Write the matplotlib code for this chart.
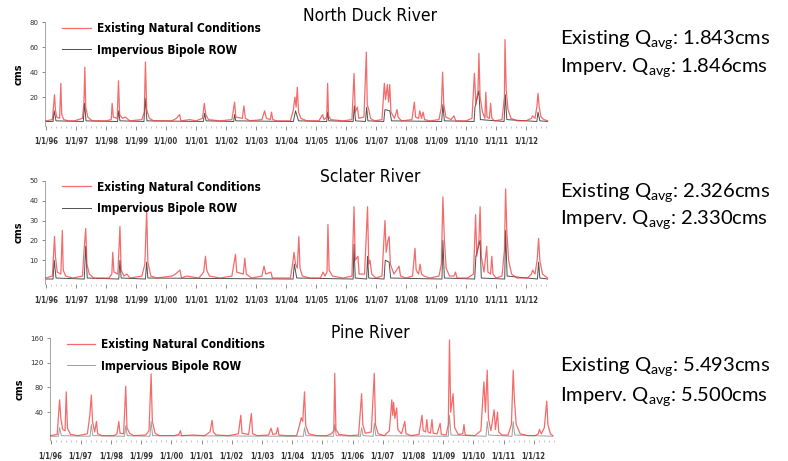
import matplotlib.pyplot as plt
from matplotlib.ticker import MultipleLocator

# North Duck River, decimal years and flow (cms)
nd_t = [1996.00, 1996.22, 1996.26, 1996.29, 1996.32, 1996.36, 1996.46, 1996.50, 1996.53, 1996.60, 1996.75,
        1996.95, 1997.22, 1997.27, 1997.30, 1997.33, 1997.40, 1997.55, 1998.00, 1998.18, 1998.21, 1998.25,
        1998.38, 1998.42, 1998.46, 1998.55, 1998.65, 1998.80, 1999.20, 1999.28, 1999.32, 1999.36, 1999.45,
        1999.60, 2000.20, 2000.35, 2000.46, 2000.50, 2000.80, 2001.00, 2001.22, 2001.28, 2001.33, 2001.42,
        2001.80, 2002.20, 2002.29, 2002.33, 2002.55, 2002.60, 2002.65, 2002.80, 2003.20, 2003.29, 2003.35,
        2003.48, 2003.52, 2003.56, 2003.70, 2004.15, 2004.25, 2004.30, 2004.34, 2004.38, 2004.42, 2004.50,
        2004.70, 2005.10, 2005.22, 2005.27, 2005.36, 2005.39, 2005.42, 2005.50, 2005.90, 2006.20, 2006.27,
        2006.31, 2006.38, 2006.43, 2006.60, 2006.68, 2006.71, 2006.76, 2006.82, 2006.95, 2007.20, 2007.28,
        2007.32, 2007.38, 2007.42, 2007.46, 2007.50, 2007.62, 2007.70, 2007.74, 2007.85, 2008.20, 2008.28,
        2008.32, 2008.42, 2008.46, 2008.52, 2008.57, 2008.62, 2008.80, 2009.10, 2009.18, 2009.22, 2009.26,
        2009.33, 2009.50, 2009.60, 2009.66, 2010.00, 2010.20, 2010.28, 2010.33, 2010.40, 2010.43, 2010.47,
        2010.55, 2010.63, 2010.66, 2010.70, 2010.78, 2010.82, 2010.86, 2010.95, 2011.20, 2011.28, 2011.30,
        2011.34, 2011.40, 2011.50, 2011.70, 2012.00, 2012.18, 2012.22, 2012.30, 2012.36, 2012.40, 2012.44,
        2012.50, 2012.60, 2012.72]
nd_exist = [1, 2, 14, 22, 10, 4, 3, 31, 6, 2, 1,
            1, 3, 15, 44, 12, 4, 1, 1, 2, 15, 4,
            3, 33, 6, 3, 4, 1, 2, 8, 48, 10, 3,
            1, 1, 3, 6, 1, 2, 1, 3, 15, 6, 2,
            1, 2, 16, 4, 3, 13, 3, 1, 2, 9, 3,
            2, 8, 2, 1, 1, 10, 20, 12, 28, 8, 3,
            1, 1, 6, 2, 4, 31, 5, 2, 1, 2, 39,
            8, 12, 3, 4, 56, 14, 10, 3, 1, 2, 31,
            18, 30, 16, 30, 8, 3, 10, 4, 1, 2, 16,
            4, 3, 9, 3, 8, 2, 1, 2, 12, 40, 14,
            4, 2, 5, 1, 1, 3, 39, 14, 25, 55, 20,
            8, 3, 24, 4, 3, 15, 3, 1, 2, 20, 66,
            26, 10, 3, 1, 1, 3, 5, 3, 12, 23, 12,
            4, 2, 1]
nd_imp_t = [1996.00, 1996.24, 1996.28, 1996.34, 1997.25, 1997.29, 1997.34, 1998.39, 1998.43, 1998.47,
            1999.27, 1999.31, 1999.37, 2001.25, 2001.29, 2001.34, 2002.26, 2002.29, 2002.33, 2004.25,
            2004.32, 2004.42, 2005.36, 2005.39, 2005.43, 2006.24, 2006.28, 2006.32, 2006.65, 2006.69,
            2006.73, 2007.26, 2007.30, 2007.46, 2007.52, 2009.19, 2009.23, 2009.28, 2010.27, 2010.30,
            2010.43, 2010.48, 2011.27, 2011.31, 2011.36, 2012.36, 2012.40, 2012.46, 2012.72]
nd_imp = [0.5, 0.5, 9, 1, 0.5, 15, 1, 0.5, 9, 1,
          0.5, 19, 1, 0.5, 7, 1, 0.5, 6, 1, 0.5,
          9, 1, 0.5, 8, 1, 0.5, 13, 1, 0.5, 12,
          1, 0.5, 10, 9, 1, 0.5, 14, 1, 0.5, 12,
          25, 2, 0.5, 22, 2, 0.5, 8, 1, 0.5]

# Sclater River
sc_t = [1996.00, 1996.22, 1996.26, 1996.29, 1996.32, 1996.38, 1996.50, 1996.55, 1996.58, 1996.66, 1996.90,
        1997.22, 1997.28, 1997.33, 1997.37, 1997.45, 1997.60, 1998.10, 1998.20, 1998.23, 1998.27, 1998.40,
        1998.47, 1998.51, 1998.60, 1998.70, 1998.80, 1999.20, 1999.30, 1999.36, 1999.40, 1999.50, 1999.70,
        2000.20, 2000.32, 2000.47, 2000.52, 2000.70, 2001.10, 2001.26, 2001.32, 2001.36, 2001.45, 2001.80,
        2002.20, 2002.32, 2002.36, 2002.58, 2002.63, 2002.68, 2002.85, 2003.20, 2003.27, 2003.33, 2003.50,
        2003.55, 2003.80, 2004.15, 2004.24, 2004.27, 2004.32, 2004.38, 2004.43, 2004.47, 2004.55, 2004.80,
        2005.15, 2005.24, 2005.30, 2005.37, 2005.40, 2005.44, 2005.55, 2005.90, 2006.20, 2006.27, 2006.31,
        2006.40, 2006.44, 2006.62, 2006.72, 2006.76, 2006.80, 2006.86, 2007.00, 2007.20, 2007.30, 2007.34,
        2007.40, 2007.44, 2007.48, 2007.60, 2007.77, 2007.82, 2008.00, 2008.22, 2008.30, 2008.34, 2008.42,
        2008.47, 2008.52, 2008.60, 2008.80, 2009.10, 2009.18, 2009.23, 2009.28, 2009.34, 2009.45, 2009.60,
        2009.65, 2009.70, 2010.05, 2010.25, 2010.32, 2010.36, 2010.43, 2010.47, 2010.51, 2010.60, 2010.69,
        2010.73, 2010.82, 2010.86, 2010.90, 2011.00, 2011.20, 2011.28, 2011.32, 2011.36, 2011.42, 2011.52,
        2011.70, 2012.05, 2012.18, 2012.22, 2012.30, 2012.37, 2012.42, 2012.46, 2012.55, 2012.72]
sc_exist = [1, 2, 14, 22, 12, 4, 3, 25, 5, 2, 1,
            2, 16, 26, 8, 3, 1, 1, 3, 14, 4, 3,
            27, 5, 2, 3, 1, 2, 8, 35, 9, 2, 1,
            2, 3, 5, 1, 2, 1, 4, 12, 5, 2, 1,
            2, 13, 4, 3, 11, 3, 1, 2, 7, 3, 4,
            1, 1, 1, 10, 14, 8, 6, 22, 6, 2, 1,
            1, 4, 2, 4, 28, 5, 2, 1, 2, 37, 10,
            12, 3, 3, 37, 8, 10, 3, 1, 2, 30, 14,
            20, 22, 8, 3, 7, 2, 1, 2, 16, 5, 3,
            8, 3, 2, 1, 2, 8, 42, 20, 6, 2, 2,
            4, 1, 1, 3, 33, 12, 20, 37, 12, 4, 17,
            4, 3, 12, 3, 1, 2, 15, 46, 25, 10, 3,
            1, 1, 3, 5, 3, 10, 21, 10, 3, 1]
sc_imp_t = [1996.00, 1996.24, 1996.28, 1996.34, 1997.28, 1997.33, 1997.38, 1998.43, 1998.47, 1998.51,
            1999.32, 1999.36, 1999.40, 2004.24, 2004.28, 2004.36, 2006.24, 2006.27, 2006.31, 2006.69,
            2006.72, 2006.76, 2007.27, 2007.31, 2007.44, 2007.49, 2009.20, 2009.23, 2009.28, 2010.29,
            2010.33, 2010.47, 2010.51, 2011.29, 2011.32, 2011.37, 2012.38, 2012.42, 2012.46, 2012.72]
sc_imp = [0.5, 0.5, 10, 1, 0.5, 17, 1, 0.5, 10, 1,
          0.5, 9, 1, 0.5, 8, 1, 0.5, 18, 1, 0.5,
          12, 1, 0.5, 10, 9, 1, 0.5, 20, 1, 0.5,
          12, 20, 1, 0.5, 25, 2, 0.5, 9, 1, 0.5]

# Pine River
pn_t = [1996.00, 1996.22, 1996.27, 1996.30, 1996.34, 1996.40, 1996.48, 1996.52, 1996.56, 1996.66, 1996.90,
        1997.22, 1997.30, 1997.35, 1997.39, 1997.46, 1997.52, 1997.56, 1997.70, 1998.10, 1998.20, 1998.26,
        1998.30, 1998.42, 1998.49, 1998.53, 1998.62, 1998.75, 1999.15, 1999.26, 1999.33, 1999.37, 1999.46,
        1999.60, 2000.10, 2000.25, 2000.30, 2000.34, 2000.70, 2001.10, 2001.28, 2001.35, 2001.39, 2001.48,
        2001.90, 2002.22, 2002.30, 2002.34, 2002.56, 2002.65, 2002.69, 2002.85, 2003.22, 2003.30, 2003.36,
        2003.47, 2003.52, 2003.56, 2003.80, 2004.15, 2004.25, 2004.30, 2004.35, 2004.41, 2004.45, 2004.55,
        2004.80, 2005.15, 2005.30, 2005.38, 2005.41, 2005.45, 2005.55, 2005.90, 2006.20, 2006.30, 2006.34,
        2006.42, 2006.62, 2006.72, 2006.76, 2006.85, 2007.05, 2007.22, 2007.27, 2007.30, 2007.33, 2007.36,
        2007.40, 2007.46, 2007.50, 2007.62, 2007.73, 2007.77, 2007.95, 2008.20, 2008.30, 2008.34, 2008.42,
        2008.46, 2008.50, 2008.58, 2008.63, 2008.67, 2008.80, 2008.90, 2008.94, 2009.10, 2009.17, 2009.21,
        2009.25, 2009.33, 2009.38, 2009.50, 2009.65, 2009.69, 2009.73, 2010.05, 2010.25, 2010.31, 2010.35,
        2010.40, 2010.46, 2010.50, 2010.58, 2010.69, 2010.73, 2010.80, 2010.84, 2010.95, 2011.15, 2011.26,
        2011.32, 2011.36, 2011.42, 2011.55, 2011.80, 2012.05, 2012.15, 2012.19, 2012.25, 2012.35, 2012.43,
        2012.47, 2012.55, 2012.63]
pn_exist = [2, 4, 40, 60, 30, 12, 10, 73, 14, 4, 2,
            5, 35, 68, 25, 8, 25, 5, 2, 2, 5, 25,
            6, 5, 82, 15, 6, 2, 3, 10, 102, 25, 6,
            2, 2, 4, 10, 2, 3, 2, 8, 27, 8, 3,
            2, 5, 35, 6, 4, 38, 5, 2, 3, 14, 4,
            5, 15, 3, 2, 2, 20, 31, 25, 73, 18, 5,
            2, 2, 5, 10, 103, 12, 4, 2, 3, 70, 20,
            6, 8, 103, 20, 5, 2, 10, 40, 60, 35, 56,
            30, 47, 12, 5, 25, 5, 2, 4, 35, 10, 8,
            28, 8, 6, 28, 6, 5, 22, 4, 3, 20, 157,
            40, 70, 15, 4, 5, 20, 3, 2, 10, 60, 89,
            40, 108, 30, 10, 44, 12, 40, 8, 3, 3, 20,
            108, 60, 20, 5, 2, 2, 5, 12, 5, 15, 58,
            20, 5, 2]
pn_imp_t = [1996.00, 1996.26, 1996.30, 1996.36, 1997.31, 1997.35, 1997.40, 1998.45, 1998.49, 1998.54,
            1999.29, 1999.33, 1999.38, 2004.37, 2004.41, 2004.46, 2005.37, 2005.41, 2005.46, 2006.26,
            2006.30, 2006.35, 2006.68, 2006.72, 2006.77, 2009.17, 2009.21, 2009.26, 2010.42, 2010.46,
            2010.51, 2011.28, 2011.32, 2011.37, 2012.63]
pn_imp = [1, 1, 15, 2, 1, 20, 2, 1, 18, 2,
          1, 25, 2, 1, 15, 2, 1, 20, 2, 1,
          15, 2, 1, 22, 2, 1, 35, 3, 1, 25,
          3, 1, 25, 3, 1]

year_ticks = list(range(1996, 2013))
year_labels = ['1/1/%02d' % (y % 100) for y in year_ticks]

rivers = ['North Duck River', 'Sclater River', 'Pine River']
q_exist = ['1.843', '2.326', '5.493']
q_imperv = ['1.846', '2.330', '5.500']

# condensed look, fall back to plain sans
narrow = ['DejaVu Sans Condensed', 'Liberation Sans Narrow', 'DejaVu Sans']

fig = plt.figure(figsize=(7.88, 4.61), dpi=100)

# axes boxes [left, bottom, width, height], ylim, y tick step
boxes = [[0.057, 0.727, 0.641, 0.225], [0.057, 0.384, 0.641, 0.2234], [0.063, 0.0456, 0.645, 0.221]]
ylims = [(-3, 80), (-2, 50), (-5, 160)]
ysteps = [20, 10, 40]
series = [(nd_t, nd_exist, nd_imp_t, nd_imp), (sc_t, sc_exist, sc_imp_t, sc_imp), (pn_t, pn_exist, pn_imp_t, pn_imp)]
imp_colors = ['#505050', '#505050', '#a0a0a0']
title_y = [0.965, 0.615, 0.277]
text_y = [(0.913, 0.852), (0.581, 0.521), (0.202, 0.139)]

for i in range(3):
    ax = fig.add_axes(boxes[i])
    t, ex, it, iv = series[i]
    ax.plot(it, iv, color=imp_colors[i], lw=0.7, label='Impervious Bipole ROW', zorder=2)
    ax.plot(t, ex, color='#f03a3a', lw=0.9, alpha=0.75, label='Existing Natural Conditions', zorder=3)
    h, l = ax.get_legend_handles_labels()
    ax.legend(h[::-1], l[::-1], loc='upper left', bbox_to_anchor=(0.025, 1.05), frameon=False,
              prop={'family': narrow, 'size': 8.5, 'stretch': 'condensed', 'weight': 'bold'},
              handlelength=2.4, handletextpad=0.5, labelspacing=0.75, borderaxespad=0)
    ax.set_xlim(1995.97, 2012.8)
    ax.set_ylim(*ylims[i])
    ax.set_xticks(year_ticks)
    ax.set_xticklabels(year_labels, fontsize=5.5, family=narrow, fontstretch='condensed',
                       fontweight='bold', color='#333333')
    ax.xaxis.set_minor_locator(MultipleLocator(1 / 6))
    ax.yaxis.set_major_locator(MultipleLocator(ysteps[i]))
    ax.set_yticks([v for v in ax.get_yticks() if 0 < v <= ylims[i][1]])
    ax.tick_params(axis='x', which='major', length=3, width=0.6, color='#777777', pad=5)
    ax.tick_params(axis='x', which='minor', length=1.5, width=0.4, color='#999999')
    ax.tick_params(axis='y', length=2.5, width=0.6, color='#777777', labelsize=5, labelcolor='#333333', pad=2)
    for s in ['top', 'right', 'bottom']:
        ax.spines[s].set_visible(False)
    ax.spines['left'].set_color('#999999')
    ax.spines['left'].set_linewidth(0.6)
    ax.set_ylabel('cms', fontsize=7, family=narrow, fontweight='bold', labelpad=4)

    fig.text(0.47, title_y[i], rivers[i], ha='center', va='center', fontsize=12.5,
             family=narrow, fontstretch='condensed')
    fig.text(0.711, text_y[i][0], 'Existing Q$_{\\mathregular{avg}}$: %scms' % q_exist[i],
             ha='left', va='center', fontsize=14.5, family='Lato')
    fig.text(0.711, text_y[i][1], 'Imperv. Q$_{\\mathregular{avg}}$: %scms' % q_imperv[i],
             ha='left', va='center', fontsize=14.5, family='Lato')

fig.savefig('out.png', dpi=100)
